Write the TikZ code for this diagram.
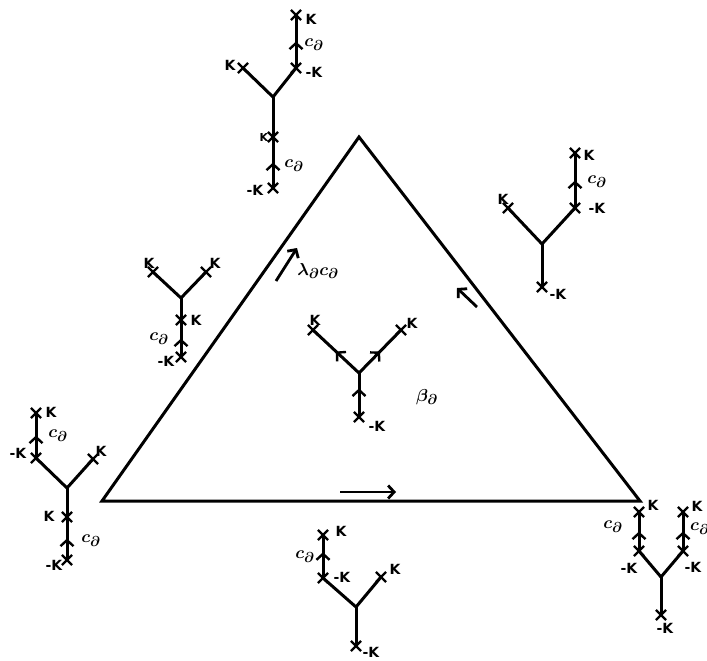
\documentclass[tikz,border=0pt]{standalone}
\usepackage{fontspec}
\newfontfamily\klabfont{DejaVu Sans}
\usetikzlibrary{arrows.meta,shapes.misc,decorations.markings}
\begin{document}
\begin{tikzpicture}[x=1pt,y=-1pt,
  edge/.style={line width=3pt},
  tri/.style={line width=3pt, line join=miter},
  xmark/.style={cross out, draw, line width=2.2pt, minimum size=8pt, inner sep=0pt},
  midarr/.style={postaction={decorate}, decoration={markings, mark=at position #1 with {\arrow[line width=2.4pt]{Straight Barb[length=6pt,width=13pt]}}}},
  midarr/.default=0.5,
  flowarr/.style={line width=2.8pt, -{Straight Barb[length=6pt,width=13pt]}},
  klab/.style={font=\klabfont\bfseries\fontsize{14}{14}\selectfont, inner sep=0pt},
  mlab/.style={font=\boldmath\fontsize{19}{19}\selectfont, inner sep=0pt}]
\useasboundingbox (0,0) rectangle (707,661);

% triangle
\coordinate (A) at (359,137);
\coordinate (B) at (102,501);
\coordinate (C) at (640,501);
\draw[tri] (A) -- (B) -- (C) -- cycle;

% flow arrows along the edges
\coordinate (l1) at (276,281); \coordinate (l2) at (297,248);
\coordinate (r1) at (477,307); \coordinate (r2) at (457,288);
\coordinate (b1) at (340,492); \coordinate (b2) at (396,492);
\draw[flowarr] (l1) -- (l2);
\draw[flowarr] (r1) -- (r2);
\draw[flowarr] (b1) -- (b2);
\node[mlab] (lamlab) at (318,271) {$\lambda_\partial c_\partial$};
\node[mlab] (betalab) at (427,397) {$\beta_\partial$};

% ---- top tree
\coordinate (Tj) at (273,97);
\node[xmark] (Tl) at (243,68) {};
\node[xmark] (Tr) at (296,68) {};
\node[xmark] (Tt) at (296,15) {};
\node[xmark] (Tm) at (273,137) {};
\node[xmark] (Tb) at (273,188) {};
\draw[edge] (Tj) -- (Tl.center);
\draw[edge] (Tj) -- (Tr.center);
\draw[edge,midarr] (Tr.center) -- (Tt.center);
\draw[edge] (Tj) -- (Tm.center);
\draw[edge,midarr] (Tb.center) -- (Tm.center);
\node[klab] (Tla) at (230,65) {K};
\node[klab] (Tra) at (314,72) {-K};
\node[klab] (Tta) at (311,19) {K};
\node[klab,font=\klabfont\bfseries\fontsize{11}{11}\selectfont] (Tma) at (264,137) {K};
\node[klab] (Tba) at (255,190) {-K};
\node[mlab] (Tc1) at (314,45) {$c_\partial$};
\node[mlab] (Tc2) at (294,166) {$c_\partial$};

% ---- upper right tree
\coordinate (Rj) at (542,244);
\node[xmark] (Rl) at (508,208) {};
\node[xmark] (Rr) at (575,208) {};
\node[xmark] (Rt) at (575,153) {};
\node[xmark] (Rb) at (542,287) {};
\draw[edge] (Rj) -- (Rl.center);
\draw[edge] (Rj) -- (Rr.center);
\draw[edge,midarr] (Rr.center) -- (Rt.center);
\draw[edge] (Rj) -- (Rb.center);
\node[klab] (Rla) at (503,199) {K};
\node[klab] (Rra) at (597,208) {-K};
\node[klab] (Rta) at (589,155) {K};
\node[klab] (Rba) at (558,294) {-K};
\node[mlab] (Rc) at (597,182) {$c_\partial$};

% ---- left middle tree
\coordinate (Lj) at (181,298);
\node[xmark] (Ll) at (153,272) {};
\node[xmark] (Lr) at (206,272) {};
\node[xmark] (Lm) at (181,320) {};
\node[xmark] (Lb) at (181,357) {};
\draw[edge] (Lj) -- (Ll.center);
\draw[edge] (Lj) -- (Lr.center);
\draw[edge] (Lj) -- (Lm.center);
\draw[edge,midarr] (Lb.center) -- (Lm.center);
\node[klab] (Lla) at (149,263) {K};
\node[klab] (Lra) at (215,263) {K};
\node[klab] (Lma) at (196,320) {K};
\node[klab] (Lba) at (166,361) {-K};
\node[mlab] (Lc) at (159,339) {$c_\partial$};

% ---- centre tree
\coordinate (Mj) at (359,373);
\node[xmark] (Ml) at (313,330) {};
\node[xmark] (Mr) at (401,330) {};
\node[xmark] (Mb) at (359,417) {};
\draw[edge,midarr] (Mj) -- (Ml.center);
\draw[edge,midarr] (Mj) -- (Mr.center);
\draw[edge,midarr=0.65] (Mb.center) -- (Mj);
\node[klab] (Mla) at (315,320) {K};
\node[klab] (Mra) at (412,323) {K};
\node[klab] (Mba) at (377,426) {-K};

% ---- lower left tree
\coordinate (Wj) at (67,488);
\node[xmark] (Wl) at (36,458) {};
\node[xmark] (Wt) at (36,413) {};
\node[xmark] (Wr) at (93,459) {};
\node[xmark] (Wm) at (67,517) {};
\node[xmark] (Wb) at (67,560) {};
\draw[edge] (Wj) -- (Wl.center);
\draw[edge,midarr] (Wl.center) -- (Wt.center);
\draw[edge] (Wj) -- (Wr.center);
\draw[edge] (Wj) -- (Wm.center);
\draw[edge,midarr] (Wb.center) -- (Wm.center);
\node[klab] (Wla) at (18,453) {-K};
\node[klab] (Wta) at (51,412) {K};
\node[klab] (Wra) at (101,451) {K};
\node[klab] (Wma) at (49,516) {K};
\node[klab] (Wba) at (54,565) {-K};
\node[mlab] (Wc1) at (58,436) {$c_\partial$};
\node[mlab] (Wc2) at (91,541) {$c_\partial$};

% ---- bottom tree
\coordinate (Sj) at (356,607);
\node[xmark] (Sl) at (323,578) {};
\node[xmark] (St) at (323,535) {};
\node[xmark] (Sr) at (381,577) {};
\node[xmark] (Sb) at (356,646) {};
\draw[edge] (Sj) -- (Sl.center);
\draw[edge,midarr=0.6] (Sl.center) -- (St.center);
\draw[edge] (Sj) -- (Sr.center);
\draw[edge] (Sj) -- (Sb.center);
\node[klab] (Sla) at (342,577) {-K};
\node[klab] (Sta) at (341,531) {K};
\node[klab] (Sra) at (395,569) {K};
\node[klab] (Sba) at (371,652) {-K};
\node[mlab] (Sc) at (305,557) {$c_\partial$};

% ---- bottom right tree
\coordinate (Qj) at (661,577);
\node[xmark] (Ql) at (639,551) {};
\node[xmark] (Qlt) at (639,512) {};
\node[xmark] (Qr) at (683,551) {};
\node[xmark] (Qrt) at (683,512) {};
\node[xmark] (Qb) at (661,615) {};
\draw[edge] (Qj) -- (Ql.center);
\draw[edge,midarr] (Ql.center) -- (Qlt.center);
\draw[edge] (Qj) -- (Qr.center);
\draw[edge,midarr] (Qr.center) -- (Qrt.center);
\draw[edge] (Qj) -- (Qb.center);
\node[klab] (Qla) at (629,568) {-K};
\node[klab] (Qlta) at (653,505) {K};
\node[klab] (Qra) at (693,567) {-K};
\node[klab] (Qrta) at (697,506) {K};
\node[klab] (Qba) at (665,628) {-K};
\node[mlab] (Qc1) at (613,527) {$c_\partial$};
\node[mlab,anchor=west] (Qc2) at (690,529) {$c_\partial$};
\end{tikzpicture}
\end{document}
